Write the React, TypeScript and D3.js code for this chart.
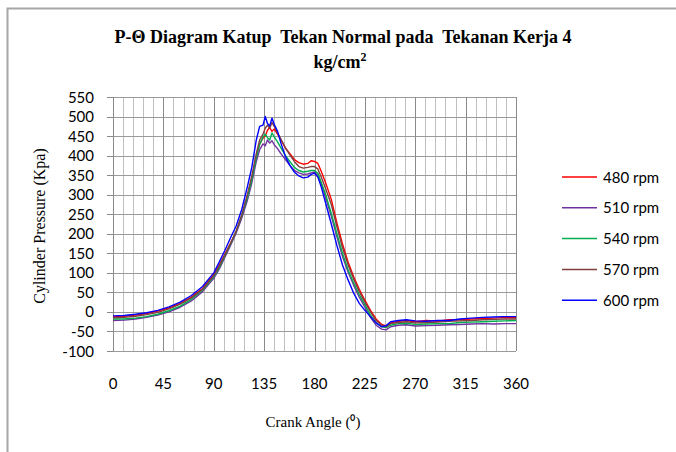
import { useEffect, useRef } from "react";
import * as d3 from "d3";

const angles = [0, 10, 20, 30, 40, 50, 60, 70, 80, 90, 95, 100, 105, 110, 115, 120, 124, 128, 131, 134, 136, 138, 140, 142, 144, 147, 150, 154, 158, 162, 166, 170, 174, 177, 180, 183, 186, 190, 195, 200, 205, 210, 215, 220, 225, 230, 235, 240, 244, 248, 255, 262, 270, 280, 290, 300, 310, 320, 330, 340, 350, 360];

const rpm480 = [-12, -11, -8, -4, 2, 10, 22, 38, 60, 95, 120, 148, 176, 205, 245, 295, 340, 395, 430, 445, 450, 465, 472, 462, 468, 455, 440, 420, 405, 390, 382, 378, 380, 387, 385, 380, 360, 330, 288, 228, 174, 128, 90, 58, 30, 4, -18, -32, -36, -28, -24, -22, -25, -22, -24, -20, -20, -18, -17, -16, -14, -15];
const rpm510 = [-22, -21, -18, -14, -8, 0, 12, 28, 52, 86, 110, 140, 170, 202, 240, 285, 330, 385, 415, 430, 425, 440, 432, 438, 428, 418, 405, 390, 375, 362, 356, 352, 353, 356, 358, 350, 328, 292, 245, 192, 142, 102, 68, 38, 12, -14, -34, -44, -46, -38, -34, -33, -36, -35, -34, -33, -32, -31, -30, -31, -30, -30];
const rpm540 = [-18, -18, -16, -12, -6, 3, 15, 32, 56, 90, 114, 144, 174, 206, 246, 292, 338, 395, 428, 448, 455, 446, 440, 458, 448, 435, 420, 400, 385, 370, 362, 358, 360, 362, 362, 355, 332, 300, 252, 200, 150, 108, 74, 44, 18, -8, -28, -38, -40, -34, -30, -29, -32, -31, -30, -30, -27, -26, -25, -24, -23, -22];
const rpm570 = [-15, -14, -11, -7, -1, 8, 20, 36, 58, 93, 118, 146, 175, 206, 248, 300, 348, 405, 440, 455, 470, 478, 470, 485, 475, 458, 442, 420, 402, 385, 372, 368, 370, 372, 372, 366, 345, 315, 275, 218, 165, 120, 84, 52, 25, 0, -22, -34, -38, -30, -27, -25, -28, -27, -26, -24, -23, -22, -20, -19, -18, -18];
const rpm600 = [-10, -9, -6, -2, 4, 13, 25, 42, 65, 100, 128, 158, 190, 220, 262, 320, 370, 440, 475, 478, 500, 482, 476, 496, 480, 462, 432, 398, 375, 358, 348, 343, 345, 352, 355, 345, 320, 278, 225, 170, 120, 82, 48, 22, 4, -12, -28, -38, -35, -25, -22, -20, -23, -24, -22, -22, -18, -16, -14, -13, -12, -12];

const seriesNames = ["480 rpm", "510 rpm", "540 rpm", "570 rpm", "600 rpm"];
const seriesValues = [rpm480, rpm510, rpm540, rpm570, rpm600];
const seriesColors = ["#ff0000", "#7030a0", "#00b050", "#7f4040", "#0000ff"];

const xTicks = [0, 45, 90, 135, 180, 225, 270, 315, 360];
const yTicks = [-100, -50, 0, 50, 100, 150, 200, 250, 300, 350, 400, 450, 500, 550];

export default function App() {
  const svgRef = useRef<SVGSVGElement>(null);

  useEffect(() => {
    if (!svgRef.current) return;
    const svg = d3.select(svgRef.current);
    svg.selectAll("*").remove();

    const left = 113, right = 516, top = 97, bottom = 351;

    const x = d3.scaleLinear().domain([0, 360]).range([left, right]);
    const y = d3.scaleLinear().domain([-100, 550]).range([bottom, top]);

    // outer frame
    svg.append("rect")
      .attr("x", 7.5).attr("y", 8.5)
      .attr("width", 700).attr("height", 500)
      .style("fill", "#fff").style("stroke", "#a6a6a6").style("stroke-width", 2);

    // title
    const serif = "'Liberation Serif', 'Times New Roman', serif";
    svg.append("text")
      .attr("x", 343).attr("y", 43)
      .attr("text-anchor", "middle")
      .style("font-family", serif)
      .style("font-weight", "bold")
      .style("font-size", "18px")
      .style("white-space", "pre")
      .text("P-Θ Diagram Katup  Tekan Normal pada  Tekanan Kerja 4");
    const t2 = svg.append("text")
      .attr("x", 340).attr("y", 68)
      .attr("text-anchor", "middle")
      .style("font-family", serif)
      .style("font-weight", "bold")
      .style("font-size", "18px");
    t2.append("tspan").text("kg/cm");
    t2.append("tspan").attr("dy", -7).style("font-size", "12px").text("2");

    const g = svg.append("g");

    // minor vertical grid every 9 degrees
    const minor = d3.range(9, 360, 9).filter(d => d % 45 !== 0);
    g.selectAll(".vminor").data(minor).enter().append("line")
      .attr("x1", d => Math.round(x(d)) + 0.5).attr("x2", d => Math.round(x(d)) + 0.5)
      .attr("y1", top).attr("y2", bottom)
      .style("stroke", "#c0c0c0").style("stroke-width", 1);

    g.selectAll(".hgrid").data(yTicks).enter().append("line")
      .attr("x1", left).attr("x2", right)
      .attr("y1", d => Math.round(y(d)) + 0.5).attr("y2", d => Math.round(y(d)) + 0.5)
      .style("stroke", "#9a9a9a").style("stroke-width", 1);

    g.selectAll(".vmajor").data(xTicks).enter().append("line")
      .attr("x1", d => Math.round(x(d)) + 0.5).attr("x2", d => Math.round(x(d)) + 0.5)
      .attr("y1", top).attr("y2", bottom)
      .style("stroke", "#8a8a8a").style("stroke-width", 1);

    // y tick marks
    g.selectAll(".ytick").data(yTicks).enter().append("line")
      .attr("x1", left - 6).attr("x2", left)
      .attr("y1", d => Math.round(y(d)) + 0.5).attr("y2", d => Math.round(y(d)) + 0.5)
      .style("stroke", "#8a8a8a");

    const tickFont = "Lato, 'Open Sans', sans-serif";
    g.selectAll(".ylab").data(yTicks).enter().append("text")
      .attr("x", 94).attr("y", d => y(d) + 5.5)
      .attr("text-anchor", "end")
      .style("font-family", tickFont).style("font-size", "15px").style("fill", "#000")
      .text(d => d);

    g.selectAll(".xlab").data(xTicks).enter().append("text")
      .attr("x", d => x(d)).attr("y", 389)
      .attr("text-anchor", "middle")
      .style("font-family", tickFont).style("font-size", "15px").style("fill", "#000")
      .text(d => d);

    // axis titles
    svg.append("text")
      .attr("transform", "translate(45,226) rotate(-90)")
      .attr("text-anchor", "middle")
      .style("font-family", serif)
      .style("font-size", "16px")
      .text("Cylinder Pressure (Kpa)");

    svg.append("text")
      .attr("x", 313).attr("y", 427)
      .attr("text-anchor", "middle")
      .style("font-family", serif)
      .style("font-size", "15px")
      .text("Crank Angle (⁰)");

    // series
    const line = d3.line<number>()
      .x((_, i) => x(angles[i]))
      .y(d => y(d));

    seriesValues.forEach((vals, i) => {
      g.append("path")
        .datum(vals)
        .attr("d", line)
        .style("fill", "none")
        .style("stroke", seriesColors[i])
        .style("stroke-width", 1.4)
        .style("stroke-linejoin", "round");
    });

    // legend
    const legend = svg.append("g");
    seriesNames.forEach((name, i) => {
      const ly = 177 + i * 30.8;
      legend.append("line")
        .attr("x1", 562).attr("x2", 597)
        .attr("y1", ly).attr("y2", ly)
        .style("stroke", seriesColors[i]).style("stroke-width", 1.5);
      legend.append("text")
        .attr("x", 603).attr("y", ly + 5.5)
        .style("font-family", tickFont).style("font-size", "15px").style("fill", "#000")
        .text(name);
    });
  }, []);

  return (
    <svg
      ref={svgRef}
      width={676}
      height={452}
      style={{ position: "absolute", left: 0, top: 0, background: "#fff" }}
    />
  );
}
